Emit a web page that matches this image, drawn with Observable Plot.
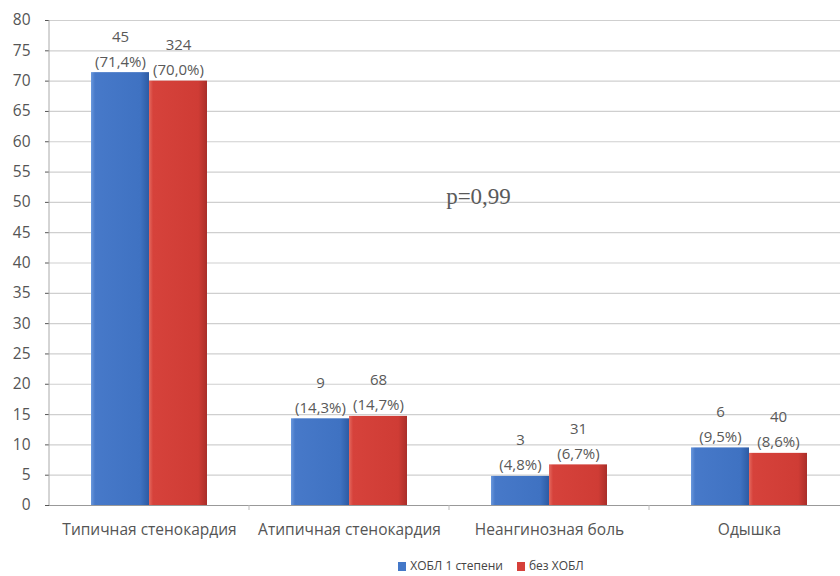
<!DOCTYPE html>
<html><head><meta charset="utf-8">
<script src="https://cdn.jsdelivr.net/npm/d3@7"></script>
<script src="https://cdn.jsdelivr.net/npm/@observablehq/plot@0.6"></script>
<style>
body{margin:0;background:#fff;font-family:"Open Sans",sans-serif;}
#legend{display:flex;gap:14px;justify-content:center;padding-left:142px;font-size:12px;color:#444;margin-top:10px;line-height:16px;}
#legend span{display:inline-flex;align-items:center;gap:4px;}
#legend i{display:inline-block;width:8px;height:9px;}
#chart g[aria-label^="fx-axis"] text{font-size:15.5px;}
#chart g[aria-label^="y-axis"] text{font-size:15.5px;}
#chart g[aria-label="y-axis tick"]{stroke:#bbb;}
</style></head>
<body><div id="chart"></div><div id="legend"></div>
<script>
const categories = ["Типичная стенокардия", "Атипичная стенокардия", "Неангинозная боль", "Одышка"];
const series = ["ХОБЛ 1 степени", "без ХОБЛ"];
const countsCOPD = [45, 9, 3, 6];
const countsNoCOPD = [324, 68, 31, 40];
const pctCOPD = [71.4, 14.3, 4.8, 9.5];
const pctNoCOPD = [70.0, 14.7, 6.7, 8.6];
const yTicks = d3.range(0, 81, 5);
const pLabel = "p=0,99";
const pY = 51;
const colors = ["#4478c8", "#d6403a"];

const data = [];
categories.forEach((c, i) => {
  data.push({cat: c, s: series[0], v: pctCOPD[i], n: countsCOPD[i]});
  data.push({cat: c, s: series[1], v: pctNoCOPD[i], n: countsNoCOPD[i]});
});
const fmt = v => "(" + v.toFixed(1).replace(".", ",") + "%)";

const svg = Plot.plot({
  width: 840, height: 548,
  marginTop: 20, marginBottom: 43, marginLeft: 49, marginRight: 0,
  style: {fontFamily: "Open Sans, sans-serif", fontSize: "14px", color: "#555"},
  fx: {domain: categories, padding: 0, range: [49, 849], label: null, tickSize: 0, tickPadding: 18},
  x: {domain: series, paddingInner: 0, paddingOuter: 0.724, axis: null},
  y: {domain: [0, 80], ticks: yTicks, grid: false, label: null, tickSize: 4, tickPadding: 15},
  color: {domain: series, range: ["url(#gBlue)", "url(#gRed)"]},
  marks: [
    Plot.ruleY(yTicks, {stroke: "#cfcfcf", strokeWidth: 1.2}),
    Plot.barY(data, {fx: "cat", x: "s", y: "v", fill: "s"}),
    Plot.ruleY([0], {stroke: "#999"}),
    Plot.text(data, {fx: "cat", x: "s", y: "v", text: d => fmt(d.v),
      lineAnchor: "bottom", dy: -6, fill: "#595959", fontSize: 15}),
    Plot.text(data, {fx: "cat", x: "s", y: "v", text: d => String(d.n),
      lineAnchor: "bottom", dy: -31, fill: "#595959", fontSize: 15}),
    Plot.text([pLabel], {fx: () => categories[2], y: () => pY, text: d => d, frameAnchor: "left",
      textAnchor: "middle", dx: 29, fontFamily: "Liberation Serif, serif", fontSize: 23, fill: "#5a5a5a"})
  ]
});
const ns = "http://www.w3.org/2000/svg";
const defs = document.createElementNS(ns, "defs");
defs.innerHTML = `
<linearGradient id="gBlue" x1="0" x2="1" y1="0" y2="0">
 <stop offset="0" stop-color="#6a98dc"/><stop offset="0.07" stop-color="#4779c9"/><stop offset="0.85" stop-color="#3f72c2"/><stop offset="1" stop-color="#2d5ba3"/></linearGradient>
<linearGradient id="gRed" x1="0" x2="1" y1="0" y2="0">
 <stop offset="0" stop-color="#e4685e"/><stop offset="0.07" stop-color="#d6423b"/><stop offset="0.85" stop-color="#cf3c35"/><stop offset="1" stop-color="#a92e29"/></linearGradient>`;
svg.insertBefore(defs, svg.firstChild);
const sel = d3.select(svg);
const ys = svg.scale("y"), fxs = svg.scale("fx");
const x0 = fxs.apply(categories[0]);
// y axis line
sel.append("line").attr("x1", x0).attr("x2", x0)
  .attr("y1", ys.apply(80)).attr("y2", ys.apply(0)).attr("stroke", "#aaa");
// category boundary ticks
categories.slice(1).forEach(c => {
  const bx = fxs.apply(c);
  sel.append("line").attr("x1", bx).attr("x2", bx)
    .attr("y1", ys.apply(0)).attr("y2", ys.apply(0) + 5).attr("stroke", "#bbb");
});
document.getElementById("chart").appendChild(svg);
const lg = document.getElementById("legend");
series.forEach((s, i) => {
  const sp = document.createElement("span");
  sp.innerHTML = `<i style="background:${colors[i]}"></i>${s}`;
  lg.appendChild(sp);
});
</script></body></html>
